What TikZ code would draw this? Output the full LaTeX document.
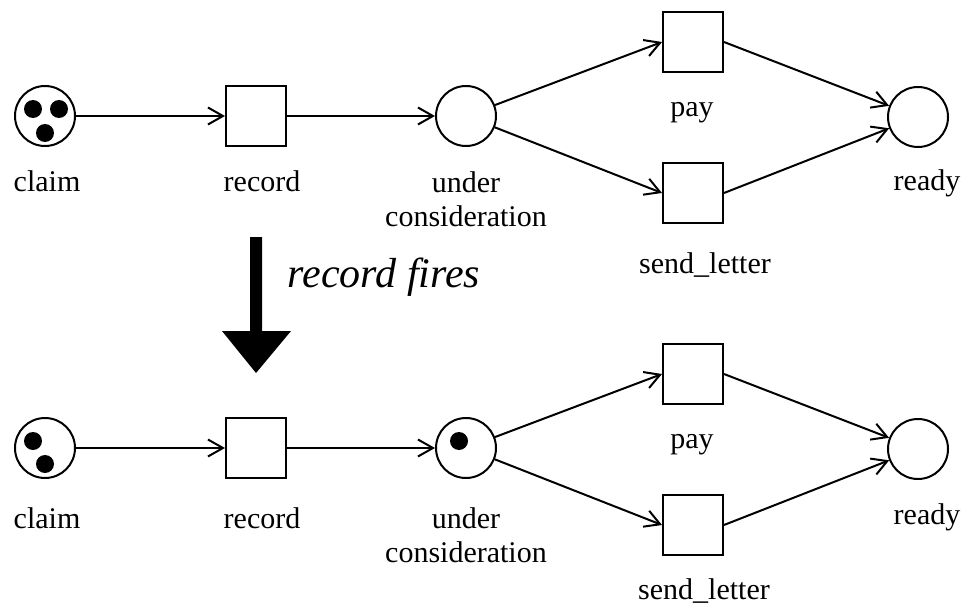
\documentclass[tikz,border=0pt]{standalone}
\usepackage{fontspec}
\setmainfont{Liberation Serif}
\usetikzlibrary{arrows.meta}
\tikzset{
  place/.style={circle, draw, line width=2pt, minimum size=60pt, inner sep=0pt},
  trans/.style={rectangle, draw, line width=2pt, minimum size=60pt, inner sep=0pt},
  token/.style={circle, fill=black, minimum size=18pt, inner sep=0pt},
  arc/.style={line width=2pt, -{Straight Barb[length=15pt,width=17pt,line width=2pt]}},
  lbl/.style={inner sep=0pt, font=\fontsize{30}{34.5}\selectfont},
}
\begin{document}
\begin{tikzpicture}[x=1pt,y=-1pt]
\useasboundingbox (0,0) rectangle (966,604);
% ---------- top net ----------
\node[place] (c1) at (45,116) {};
\node[token] (c1a) at (33,109) {};
\node[token] (c1b) at (59,109) {};
\node[token] (c1c) at (45,133) {};
\node[trans] (r1) at (256,116) {};
\node[place] (u1) at (466,116) {};
\node[trans] (p1) at (693,42) {};
\node[trans] (s1) at (693,193) {};
\node[place] (d1) at (918,117) {};
\draw[arc] (c1) -- (r1);
\draw[arc] (r1) -- (u1);
\draw[arc] (u1) -- (p1.west);
\draw[arc] (u1) -- (s1.west);
\draw[arc] (p1.east) -- (d1);
\draw[arc] (s1.east) -- (d1);
\node[lbl, anchor=base] (lc1) at (47,192) {claim};
\node[lbl, anchor=base] (lr1) at (262,192) {record};
\node[lbl, anchor=north, align=center] (lu1) at (466,171) {under\\consideration};
\node[lbl, anchor=base] (lp1) at (692,117) {pay};
\node[lbl, anchor=base] (ls1) at (705,273) {send\_letter};
\node[lbl, anchor=base] (ld1) at (927,191) {ready};
% ---------- big arrow ----------
\fill (250,237) -- (262,237) -- (262,331) -- (291,331) -- (256,373) -- (222,331) -- (250,331) -- cycle;
\node[inner sep=0pt, anchor=base, font=\fontsize{42}{48}\selectfont\itshape] (fires) at (384,287) {record fires};
% ---------- bottom net ----------
\node[place] (c2) at (45,448) {};
\node[token] (c2a) at (33,441) {};
\node[token] (c2b) at (45,464) {};
\node[trans] (r2) at (256,448) {};
\node[place] (u2) at (466,448) {};
\node[token] (u2a) at (459,441) {};
\node[trans] (p2) at (693,374) {};
\node[trans] (s2) at (693,525) {};
\node[place] (d2) at (918,449) {};
\draw[arc] (c2) -- (r2);
\draw[arc] (r2) -- (u2);
\draw[arc] (u2) -- (p2.west);
\draw[arc] (u2) -- (s2.west);
\draw[arc] (p2.east) -- (d2);
\draw[arc] (s2.east) -- (d2);
\node[lbl, anchor=base] (lc2) at (47,528) {claim};
\node[lbl, anchor=base] (lr2) at (262,528) {record};
\node[lbl, anchor=north, align=center] (lu2) at (466,507) {under\\consideration};
\node[lbl, anchor=base] (lp2) at (692,448) {pay};
\node[lbl, anchor=base] (ls2) at (704,599) {send\_letter};
\node[lbl, anchor=base] (ld2) at (927,524) {ready};
\end{tikzpicture}
\end{document}
